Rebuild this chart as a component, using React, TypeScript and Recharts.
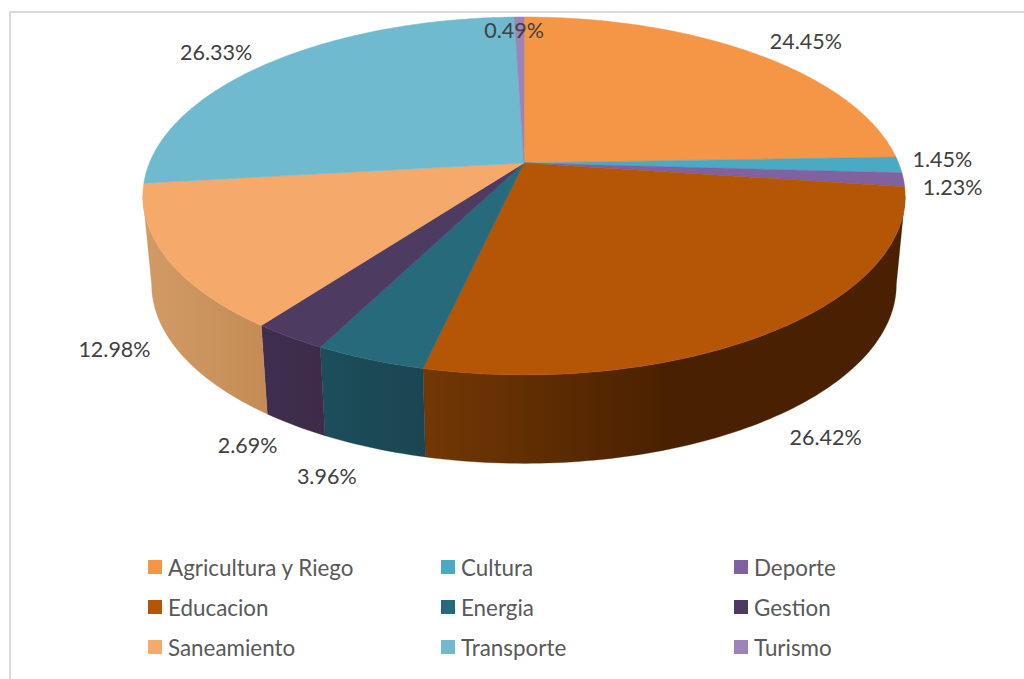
import { PieChart, Pie, Cell, Legend } from 'recharts';

const categories = ['Agricultura y Riego', 'Cultura', 'Deporte', 'Educacion', 'Energia', 'Gestion', 'Saneamiento', 'Transporte', 'Turismo'];
const shares = [24.45, 1.45, 1.23, 26.42, 3.96, 2.69, 12.98, 26.33, 0.49];
const colors = ['#f49645', '#4aaac4', '#8062a0', '#b45605', '#266a7b', '#4d3b62', '#f5a96b', '#6fbacf', '#9c83b8'];
const wallLight = ['#f49645', '#4aaac4', '#8062a0', '#733805', '#1c4e5b', '#402e4f', '#d29b65', '#6fbacf', '#9c83b8'];
const wallDark = ['#f49645', '#4aaac4', '#8062a0', '#4a2100', '#1b4552', '#3d2b49', '#c48b55', '#6fbacf', '#9c83b8'];

// where Excel left each data label, relative to the rim point of its slice
const labelOffsets = [[52, -12], [43, -6], [49, 7], [50, 107], [-43, 116], [-42, 108], [-52, 91], [-55, -10], [-5, 13]];

const data = categories.map((name, i) => ({ name, value: shares[i] }));

// perspective of the tilted pie
const SKEW = 0.184;
const RX = 374.6;
const RY = 172.9;
const DEPTH = 88.5;
const TAPER = 0.977;
const FONT = 'Lato, "Open Sans", sans-serif';

function project(cx: number, cy: number, angle: number) {
  const a = (angle * Math.PI) / 180;
  const d = 1 + SKEW * Math.sin(a);
  return { x: cx + (RX * Math.cos(a)) / d, y: cy - (RY * Math.sin(a)) / d };
}

function arc(cx: number, cy: number, from: number, to: number) {
  const steps = Math.max(2, Math.ceil(Math.abs(to - from)));
  const pts = [];
  for (let i = 0; i <= steps; i++) pts.push(project(cx, cy, from + ((to - from) * i) / steps));
  return pts;
}

const toPath = (pts: { x: number; y: number }[]) =>
  pts.map((p, i) => `${i ? 'L' : 'M'}${p.x.toFixed(2)},${p.y.toFixed(2)}`).join(' ') + ' Z';

function TopSlice(props: any) {
  const { cx, cy, startAngle, endAngle, fill } = props;
  const pts = [{ x: cx, y: cy }, ...arc(cx, cy, startAngle, endAngle)];
  return <path d={toPath(pts)} fill={fill} stroke={fill} strokeWidth={0.5} />;
}

function WallSlice(props: any) {
  const { cx, cy, startAngle, endAngle, index } = props;
  // only the front of the rim shows: angles between the two silhouette points
  const tangent = (Math.asin(SKEW) * 180) / Math.PI;
  const from = Math.min(startAngle, -tangent);
  const to = Math.max(endAngle, -180 + tangent);
  if (from <= to) return null;
  const top = arc(cx, cy, from, to);
  const bottom = top.map((p) => ({ x: cx + (p.x - cx) * TAPER, y: p.y + DEPTH })).reverse();
  const fill = `url(#wall${index})`;
  return <path d={toPath([...top, ...bottom])} fill={fill} stroke={wallDark[index]} strokeWidth={0.3} />;
}

function renderLabel(props: any) {
  const { cx, cy, midAngle, index } = props;
  const rim = project(cx, cy, midAngle);
  const [dx, dy] = labelOffsets[index];
  return (
    <text x={rim.x + dx} y={rim.y + dy} textAnchor="middle" dominantBaseline="central" fill="#404040" fontSize={21.5} fontFamily={FONT}>
      {shares[index].toFixed(2)}%
    </text>
  );
}

function LegendGrid() {
  return (
    <div style={{ display: 'grid', gridTemplateColumns: 'repeat(3, 293px)', gridAutoRows: '40px', fontFamily: FONT, fontSize: 22.4, color: '#595959' }}>
      {categories.map((name, i) => (
        <div key={name} style={{ display: 'flex', alignItems: 'center', height: 40 }}>
          <span style={{ width: 14, height: 14, background: colors[i], marginRight: 6 }} />
          {name}
        </div>
      ))}
    </div>
  );
}

export default function App() {
  return (
    <div style={{ position: 'absolute', left: 0, top: 0, width: 1024, height: 679, overflow: 'hidden', background: '#fff' }}>
      <div style={{ position: 'absolute', left: 9, top: 11, right: -4, bottom: -4, borderLeft: '2px solid #d9d9d9', borderTop: '2px solid #d9d9d9' }} />
      <PieChart width={1024} height={679} margin={{ top: 0, right: 0, bottom: 0, left: 0 }} style={{ position: 'absolute', left: 0, top: 0 }}>
        <defs>
          {categories.map((name, i) => (
            <linearGradient key={name} id={`wall${i}`} x1="0" y1="0" x2="1" y2="0">
              <stop offset="0" stopColor={wallLight[i]} />
              <stop offset={i === 3 ? 0.5 : 1} stopColor={wallDark[i]} />
            </linearGradient>
          ))}
        </defs>
        <Pie data={data} dataKey="value" nameKey="name" cx={524} cy={163} outerRadius={300} startAngle={90} endAngle={-270} legendType="none" shape={WallSlice} stroke="none" isAnimationActive={false} />
        <Pie data={data} dataKey="value" nameKey="name" cx={524} cy={163} outerRadius={300} startAngle={90} endAngle={-270} shape={TopSlice} stroke="none" label={renderLabel} labelLine={false} isAnimationActive={false}>
          {categories.map((name, i) => (
            <Cell key={name} fill={colors[i]} />
          ))}
        </Pie>
        <Legend content={<LegendGrid />} wrapperStyle={{ left: 148, top: 547, width: 880, bottom: 'auto' }} />
      </PieChart>
    </div>
  );
}
